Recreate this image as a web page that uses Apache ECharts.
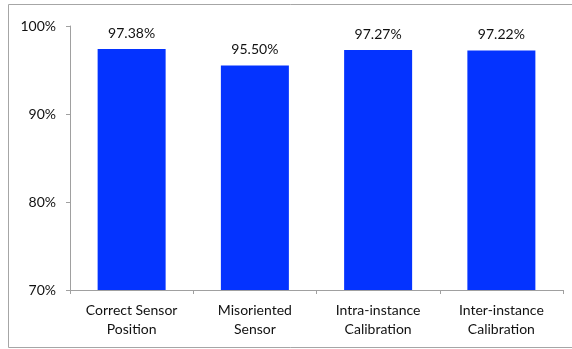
<!DOCTYPE html>
<html>
<head>
<meta charset="utf-8">
<script src="https://cdn.jsdelivr.net/npm/echarts@6/dist/echarts.min.js"></script>
<style>
  html, body { margin: 0; padding: 0; background: #ffffff; }
  #chart { width: 572px; height: 349px; }
</style>
</head>
<body>
<div id="chart"></div>
<script>
// Accuracy per sensor setup
const categories = ['Correct Sensor\nPosition', 'Misoriented\nSensor', 'Intra-instance\nCalibration', 'Inter-instance\nCalibration'];
const accuracy = [97.38, 95.50, 97.27, 97.22];
const yTicks = [70, 80, 90, 100];

const font = 'Lato, "Open Sans", sans-serif';
const chart = echarts.init(document.getElementById('chart'), null, { renderer: 'canvas' });

chart.setOption({
  animation: false,
  graphic: [{
    type: 'rect',
    shape: { x: 8.5, y: 4.5, width: 600, height: 343 },
    style: { fill: 'none', stroke: '#a6a6a6', lineWidth: 1 },
    silent: true
  }],
  grid: { left: 70, right: 9, top: 26, bottom: 59 },
  xAxis: {
    type: 'category',
    data: categories,
    axisLine: { lineStyle: { color: '#a0a0a0', width: 1 } },
    axisTick: { show: true, length: 4, lineStyle: { color: '#a0a0a0' } },
    axisLabel: { color: '#111', fontFamily: font, fontSize: 14, lineHeight: 19, margin: 11 }
  },
  yAxis: {
    type: 'value',
    min: yTicks[0],
    max: yTicks[yTicks.length - 1],
    interval: 10,
    axisLine: { show: true, lineStyle: { color: '#a0a0a0', width: 1 } },
    axisTick: { show: true, length: 4, lineStyle: { color: '#a0a0a0' } },
    splitLine: { show: false },
    axisLabel: { color: '#111', fontFamily: font, fontSize: 14, margin: 14, formatter: v => v + '%' }
  },
  series: [{
    type: 'bar',
    data: accuracy,
    barWidth: 68,
    itemStyle: { color: '#0433ff' },
    label: {
      show: true,
      position: 'top',
      distance: 9,
      color: '#111',
      fontFamily: font,
      fontSize: 14,
      formatter: p => p.value.toFixed(2) + '%'
    }
  }]
});
</script>
</body>
</html>
